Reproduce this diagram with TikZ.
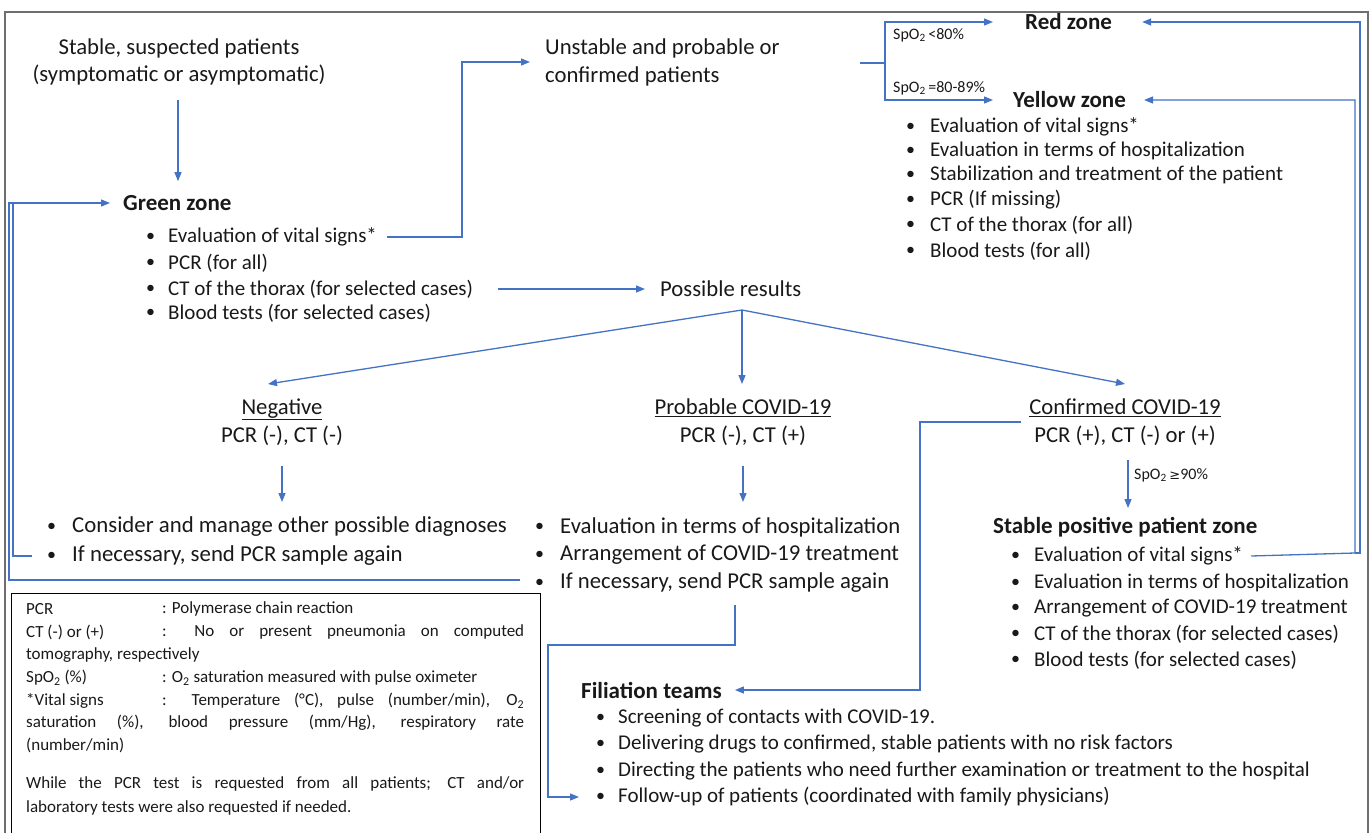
\documentclass[tikz,border=0pt]{standalone}
\usepackage{fontspec}
\setmainfont{Carlito}
\newfontfamily\dejavu{DejaVu Sans}
\usetikzlibrary{arrows.meta}
\definecolor{bl}{RGB}{68,114,196}
\definecolor{framec}{RGB}{110,110,110}
\definecolor{txtc}{RGB}{25,25,25}
\tikzset{
  conn/.style={draw=bl, line width=1.3pt},
  arr/.style={conn, -{Triangle[length=9pt,width=7pt]}},
  tx/.style={anchor=west, inner sep=0pt, text=txtc},
  big/.style={tx, font=\fontsize{22.7}{27}\selectfont},
  mid/.style={tx, font=\fontsize{21}{25}\selectfont},
  dot/.style={tx, font=\fontsize{18}{20}\selectfont},
  zone/.style={tx, font=\fontsize{23}{27}\selectfont\bfseries},
  small/.style={tx, font=\fontsize{16}{18}\selectfont},
  leg/.style={tx, font=\fontsize{17}{20}\selectfont},
  ctr/.style={anchor=center, inner sep=0pt, text=txtc, align=center},
}
\begin{document}
\begin{tikzpicture}[x=1pt,y=-1pt]
\useasboundingbox (0,0) rectangle (1372,832);
% outer frame
\draw[framec, line width=1.2pt] (5,840) -- (5,12) -- (1368,12) -- (1368,840);

% top left
\node[ctr, font=\fontsize{22.7}{27}\selectfont] (stable) at (179,62) {Stable, suspected patients\\(symptomatic or asymptomatic)};
\node[zone] (green) at (123,203) {Green zone};
\foreach \n/\y/\t in {g1/237/{Evaluation of vital signs*}, g2/263/{PCR (for all)}, g3/289/{CT of the thorax (for selected cases)}, g4/313/{Blood tests (for selected cases)}}{
  \node[dot] at (146,\y) {\textbullet};
  \node[mid] (\n) at (168,\y) {\t};
}
\coordinate (stabA) at (178,100);
\draw[arr] (stabA) -- ([yshift=14pt]stabA |- green.north);

% unstable
\node[tx, align=left, font=\fontsize{22.7}{28}\selectfont] (unst) at (545,62) {Unstable and probable or\\confirmed patients};
\coordinate (uA) at (462,237);
\draw[arr] ([xshift=10pt]g1.east) -- (uA) -- (uA |- unst.west) -- ([xshift=-15pt]unst.west);

% red / yellow
\node[zone] (red) at (1025,22) {Red zone};
\node[zone] (yellow) at (1013,100) {Yellow zone};
\coordinate (uB) at (885,63);
\coordinate (uS) at (860,63);
\draw[conn] (uS) -- (uB);
\draw[arr] (uB) -- (uB |- red.west) -- ([xshift=-32pt]red.west);
\draw[arr] (uB) -- (uB |- yellow.west) -- ([xshift=-20pt]yellow.west);
\node[small] (lab1) at (893,35) {SpO\textsubscript{2}\,<80\%};
\node[small] (lab2) at (893,88) {SpO\textsubscript{2}\,=80-89\%};
\foreach \n/\y/\t in {y1/127/{Evaluation of vital signs*}, y2/151/{Evaluation in terms of hospitalization}, y3/175/{Stabilization and treatment of the patient}, y4/200/{PCR (If missing)}, y5/225/{CT of the thorax (for all)}, y6/251/{Blood tests (for all)}}{
  \node[dot] at (906,\y) {\textbullet};
  \node[mid] (\n) at (930,\y) {\t};
}

% possible results
\node[big] (poss) at (660,289) {Possible results};
\draw[arr] ([xshift=25pt]g3.east) -- ([xshift=-15pt]poss.west);
\coordinate (pr) at (742,310);
\node[ctr, font=\fontsize{22.7}{28}\selectfont] (neg) at (282,422) {\underline{Negative}\\PCR (-), CT (-)};
\node[ctr, font=\fontsize{22.7}{28}\selectfont] (prob) at (743,422) {\underline{Probable COVID-19}\\PCR (-), CT (+)};
\node[ctr, font=\fontsize{22.7}{28}\selectfont] (conf) at (1125,422) {\underline{Confirmed COVID-19}\\PCR (+), CT (-) or (+)};
\draw[arr] (pr) -- (268,384);
\draw[arr] (pr) -- (742,384);
\draw[arr] (pr) -- (1125,384);

% negative list
\foreach \n/\y/\t in {n1/527/{Consider and manage other possible diagnoses}, n2/556/{If necessary, send PCR sample again}}{
  \node[dot] at (47,\y) {\textbullet};
  \node[tx, font=\fontsize{22.8}{27}\selectfont] (\n) at (72,\y) {\t};
}
\draw[arr] (282,466) -- (282,502);

% probable list
\foreach \n/\y/\t in {p1/527/{Evaluation in terms of hospitalization}, p2/555/{Arrangement of COVID-19 treatment}, p3/583/{If necessary, send PCR sample again}}{
  \node[dot] at (535,\y) {\textbullet};
  \node[big] (\n) at (560,\y) {\t};
}
\draw[arr] (743,466) -- (743,502);

% stable positive
\draw[arr] (1128,460) -- (1128,508);
\node[small] (lab3) at (1134,475) {SpO\textsubscript{2}\,{\dejavu\fontsize{13}{15}\selectfont ≥}90\%};
\node[zone] (spz) at (993,527) {Stable positive patient zone};
\foreach \n/\y/\t in {s1/556/{Evaluation of vital signs*}, s2/583/{Evaluation in terms of hospitalization}, s3/608/{Arrangement of COVID-19 treatment}, s4/634/{CT of the thorax (for selected cases)}, s5/660/{Blood tests (for selected cases)}}{
  \node[dot] at (1011,\y) {\textbullet};
  \node[mid] (\n) at (1034,\y) {\t};
}
\coordinate (rA) at (1355,553);
\coordinate (rB) at (1360,553);
\draw[arr] ([xshift=8pt]s1.east) -- (rA) -- (rA |- yellow.east) -- ([xshift=18pt]yellow.east);
\draw[arr] (rA) -- (rB) -- (rB |- red.east) -- ([xshift=30pt]red.east);

% filiation
\node[zone] (fil) at (581,690) {Filiation teams};
\foreach \n/\y/\t in {f1/718/{Screening of contacts with COVID-19.}, f2/744/{Delivering drugs to confirmed, stable patients with no risk factors}, f3/771/{Directing the patients who need further examination or treatment to the hospital}, f4/797/{Follow-up of patients (coordinated with family physicians)}}{
  \node[dot] at (596,\y) {\textbullet};
  \node[mid] (\n) at (618,\y) {\t};
}
\coordinate (cA) at (920,422);
\draw[arr] ([xshift=-8pt]conf.west |- cA) -- (cA) -- (cA |- fil.east) -- ([xshift=13pt]fil.east);
\coordinate (pA) at (735,605);
\coordinate (pB) at (548,645);
\coordinate (fT) at (579,797);
\draw[arr] (pA) -- (pA |- pB) -- (pB) -- (pB |- fT) -- (fT);

% loops to green zone
\coordinate (lA) at (13,556);
\coordinate (lB) at (9,580);
\draw[conn] (32,556) -- (lA) -- (lA |- green.west);
\draw[arr] (520,580) -- (lB) -- (lB |- green.west) -- ([xshift=-13pt]green.west);

% legend
\node[draw=black, line width=1.3pt, minimum width=529pt, minimum height=260pt, anchor=north west, inner sep=0pt] (legend) at (11,593) {};
\node[leg] (l1a) at (26,609) {PCR};
\node[leg] (l1b) at (162,609) {: Polymerase chain reaction};
\node[leg] (l2a) at (26,632) {CT (-) or (+)};
\node[leg] (l2b) at (162,632) {\makebox[362pt][s]{: No or present pneumonia on computed}};
\node[leg] (l3) at (26,655) {tomography, respectively};
\node[leg] (l4a) at (26,678) {SpO\textsubscript{2} (\%)};
\node[leg] (l4b) at (162,678) {: O\textsubscript{2} saturation measured with pulse oximeter};
\node[leg] (l5a) at (26,701) {*Vital signs};
\node[leg] (l5b) at (162,701) {\makebox[362pt][s]{: Temperature (°C), pulse (number/min), O\textsubscript{2}}};
\node[leg] (l6) at (26,723) {\makebox[498pt][s]{saturation (\%), blood pressure (mm/Hg), respiratory rate}};
\node[leg] (l7) at (26,745) {(number/min)};
\node[leg] (l8) at (26,784) {\makebox[498pt][s]{While the PCR test is requested from all patients; CT and/or}};
\node[leg] (l9) at (26,808) {laboratory tests were also requested if needed.};
\end{tikzpicture}
\end{document}
